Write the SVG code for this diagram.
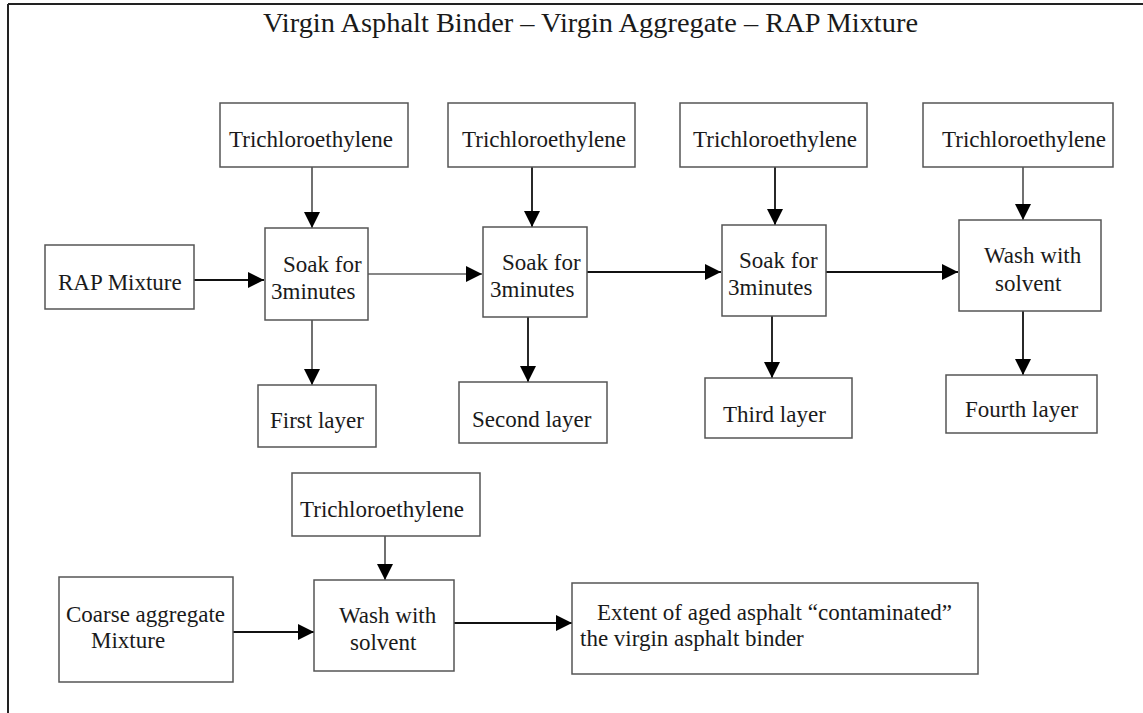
<svg xmlns="http://www.w3.org/2000/svg" width="1143" height="713" viewBox="0 0 1143 713">
<style>
.box{fill:#fff;stroke:#555;stroke-width:1.5}
.t{font-family:"Liberation Serif","Times New Roman",serif;font-size:23px;fill:#1a1a1a}
.title{font-family:"Liberation Serif","Times New Roman",serif;font-size:27.5px;fill:#1a1a1a}
.c{stroke:#111;stroke-width:1.8;fill:none;marker-end:url(#ah)}
.thin{stroke-width:1.2}
</style>
<defs>
<marker id="ah" markerUnits="userSpaceOnUse" markerWidth="16" markerHeight="16" refX="16" refY="8" orient="auto">
<path d="M0,0 L16,8 L0,16 z" fill="#000"/>
</marker>
</defs>
<rect width="1143" height="713" fill="#fff"/>
<g id="frame" stroke="#222" stroke-width="2" fill="none">
<line x1="8" y1="4" x2="1143" y2="4"/>
<line x1="8" y1="4" x2="8" y2="713"/>
</g>
<text class="title" x="263" y="32" textLength="655" lengthAdjust="spacingAndGlyphs">Virgin Asphalt Binder – Virgin Aggregate – RAP Mixture</text>

<g id="connectors">
<line class="c thin" x1="312" y1="167" x2="312" y2="228"/>
<line class="c" x1="532" y1="167" x2="532" y2="227"/>
<line class="c" x1="775" y1="167" x2="775" y2="225"/>
<line class="c thin" x1="1023" y1="167" x2="1023" y2="220"/>
<line class="c" x1="194" y1="280" x2="264" y2="280"/>
<line class="c thin" x1="368" y1="274" x2="482" y2="274"/>
<line class="c" x1="587" y1="272" x2="721" y2="272"/>
<line class="c" x1="826" y1="272" x2="958" y2="272"/>
<line class="c thin" x1="312" y1="320" x2="312" y2="385"/>
<line class="c" x1="528" y1="317" x2="528" y2="382"/>
<line class="c" x1="772" y1="316" x2="772" y2="378"/>
<line class="c" x1="1023" y1="311" x2="1023" y2="375"/>
<line class="c thin" x1="385" y1="536" x2="385" y2="580"/>
<line class="c" x1="233" y1="632" x2="314" y2="632"/>
<line class="c" x1="454" y1="623" x2="572" y2="623"/>
</g>

<g id="tce1"><rect class="box" x="220" y="103" width="188" height="64"/><text class="t" x="229" y="147">Trichloroethylene</text></g>
<g id="tce2"><rect class="box" x="448" y="103" width="187" height="64"/><text class="t" x="462" y="147">Trichloroethylene</text></g>
<g id="tce3"><rect class="box" x="680" y="103" width="187" height="64"/><text class="t" x="693" y="147">Trichloroethylene</text></g>
<g id="tce4"><rect class="box" x="923" y="103" width="190" height="64"/><text class="t" x="942" y="147">Trichloroethylene</text></g>

<g id="rap"><rect class="box" x="45" y="245" width="149" height="64"/><text class="t" x="58" y="290">RAP Mixture</text></g>

<g id="soak1"><rect class="box" x="265" y="228" width="103" height="92"/><text class="t" x="283" y="272">Soak for</text><text class="t" x="271" y="299">3minutes</text></g>
<g id="soak2"><rect class="box" x="483" y="227" width="104" height="90"/><text class="t" x="502" y="270">Soak for</text><text class="t" x="490" y="297">3minutes</text></g>
<g id="soak3"><rect class="box" x="722" y="225" width="104" height="91"/><text class="t" x="739" y="268">Soak for</text><text class="t" x="728" y="295">3minutes</text></g>
<g id="wash1"><rect class="box" x="959" y="220" width="142" height="91"/><text class="t" x="984" y="263">Wash with</text><text class="t" x="995" y="291">solvent</text></g>

<g id="layer1"><rect class="box" x="258" y="385" width="118" height="62"/><text class="t" x="270" y="428">First layer</text></g>
<g id="layer2"><rect class="box" x="459" y="382" width="148" height="61"/><text class="t" x="472" y="427">Second layer</text></g>
<g id="layer3"><rect class="box" x="705" y="378" width="147" height="60"/><text class="t" x="723" y="422">Third layer</text></g>
<g id="layer4"><rect class="box" x="946" y="375" width="151" height="58"/><text class="t" x="965" y="417">Fourth layer</text></g>

<g id="tce5"><rect class="box" x="292" y="473" width="188" height="63"/><text class="t" x="300" y="517">Trichloroethylene</text></g>
<g id="coarse"><rect class="box" x="59" y="577" width="174" height="105"/><text class="t" x="66" y="622">Coarse aggregate</text><text class="t" x="91" y="648">Mixture</text></g>
<g id="wash2"><rect class="box" x="314" y="580" width="140" height="91"/><text class="t" x="339" y="623">Wash with</text><text class="t" x="350" y="650">solvent</text></g>
<g id="extent"><rect class="box" x="572" y="583" width="406" height="91"/><text class="t" x="597" y="620">Extent of aged asphalt “contaminated”</text><text class="t" x="580" y="646">the virgin asphalt binder</text></g>
</svg>
